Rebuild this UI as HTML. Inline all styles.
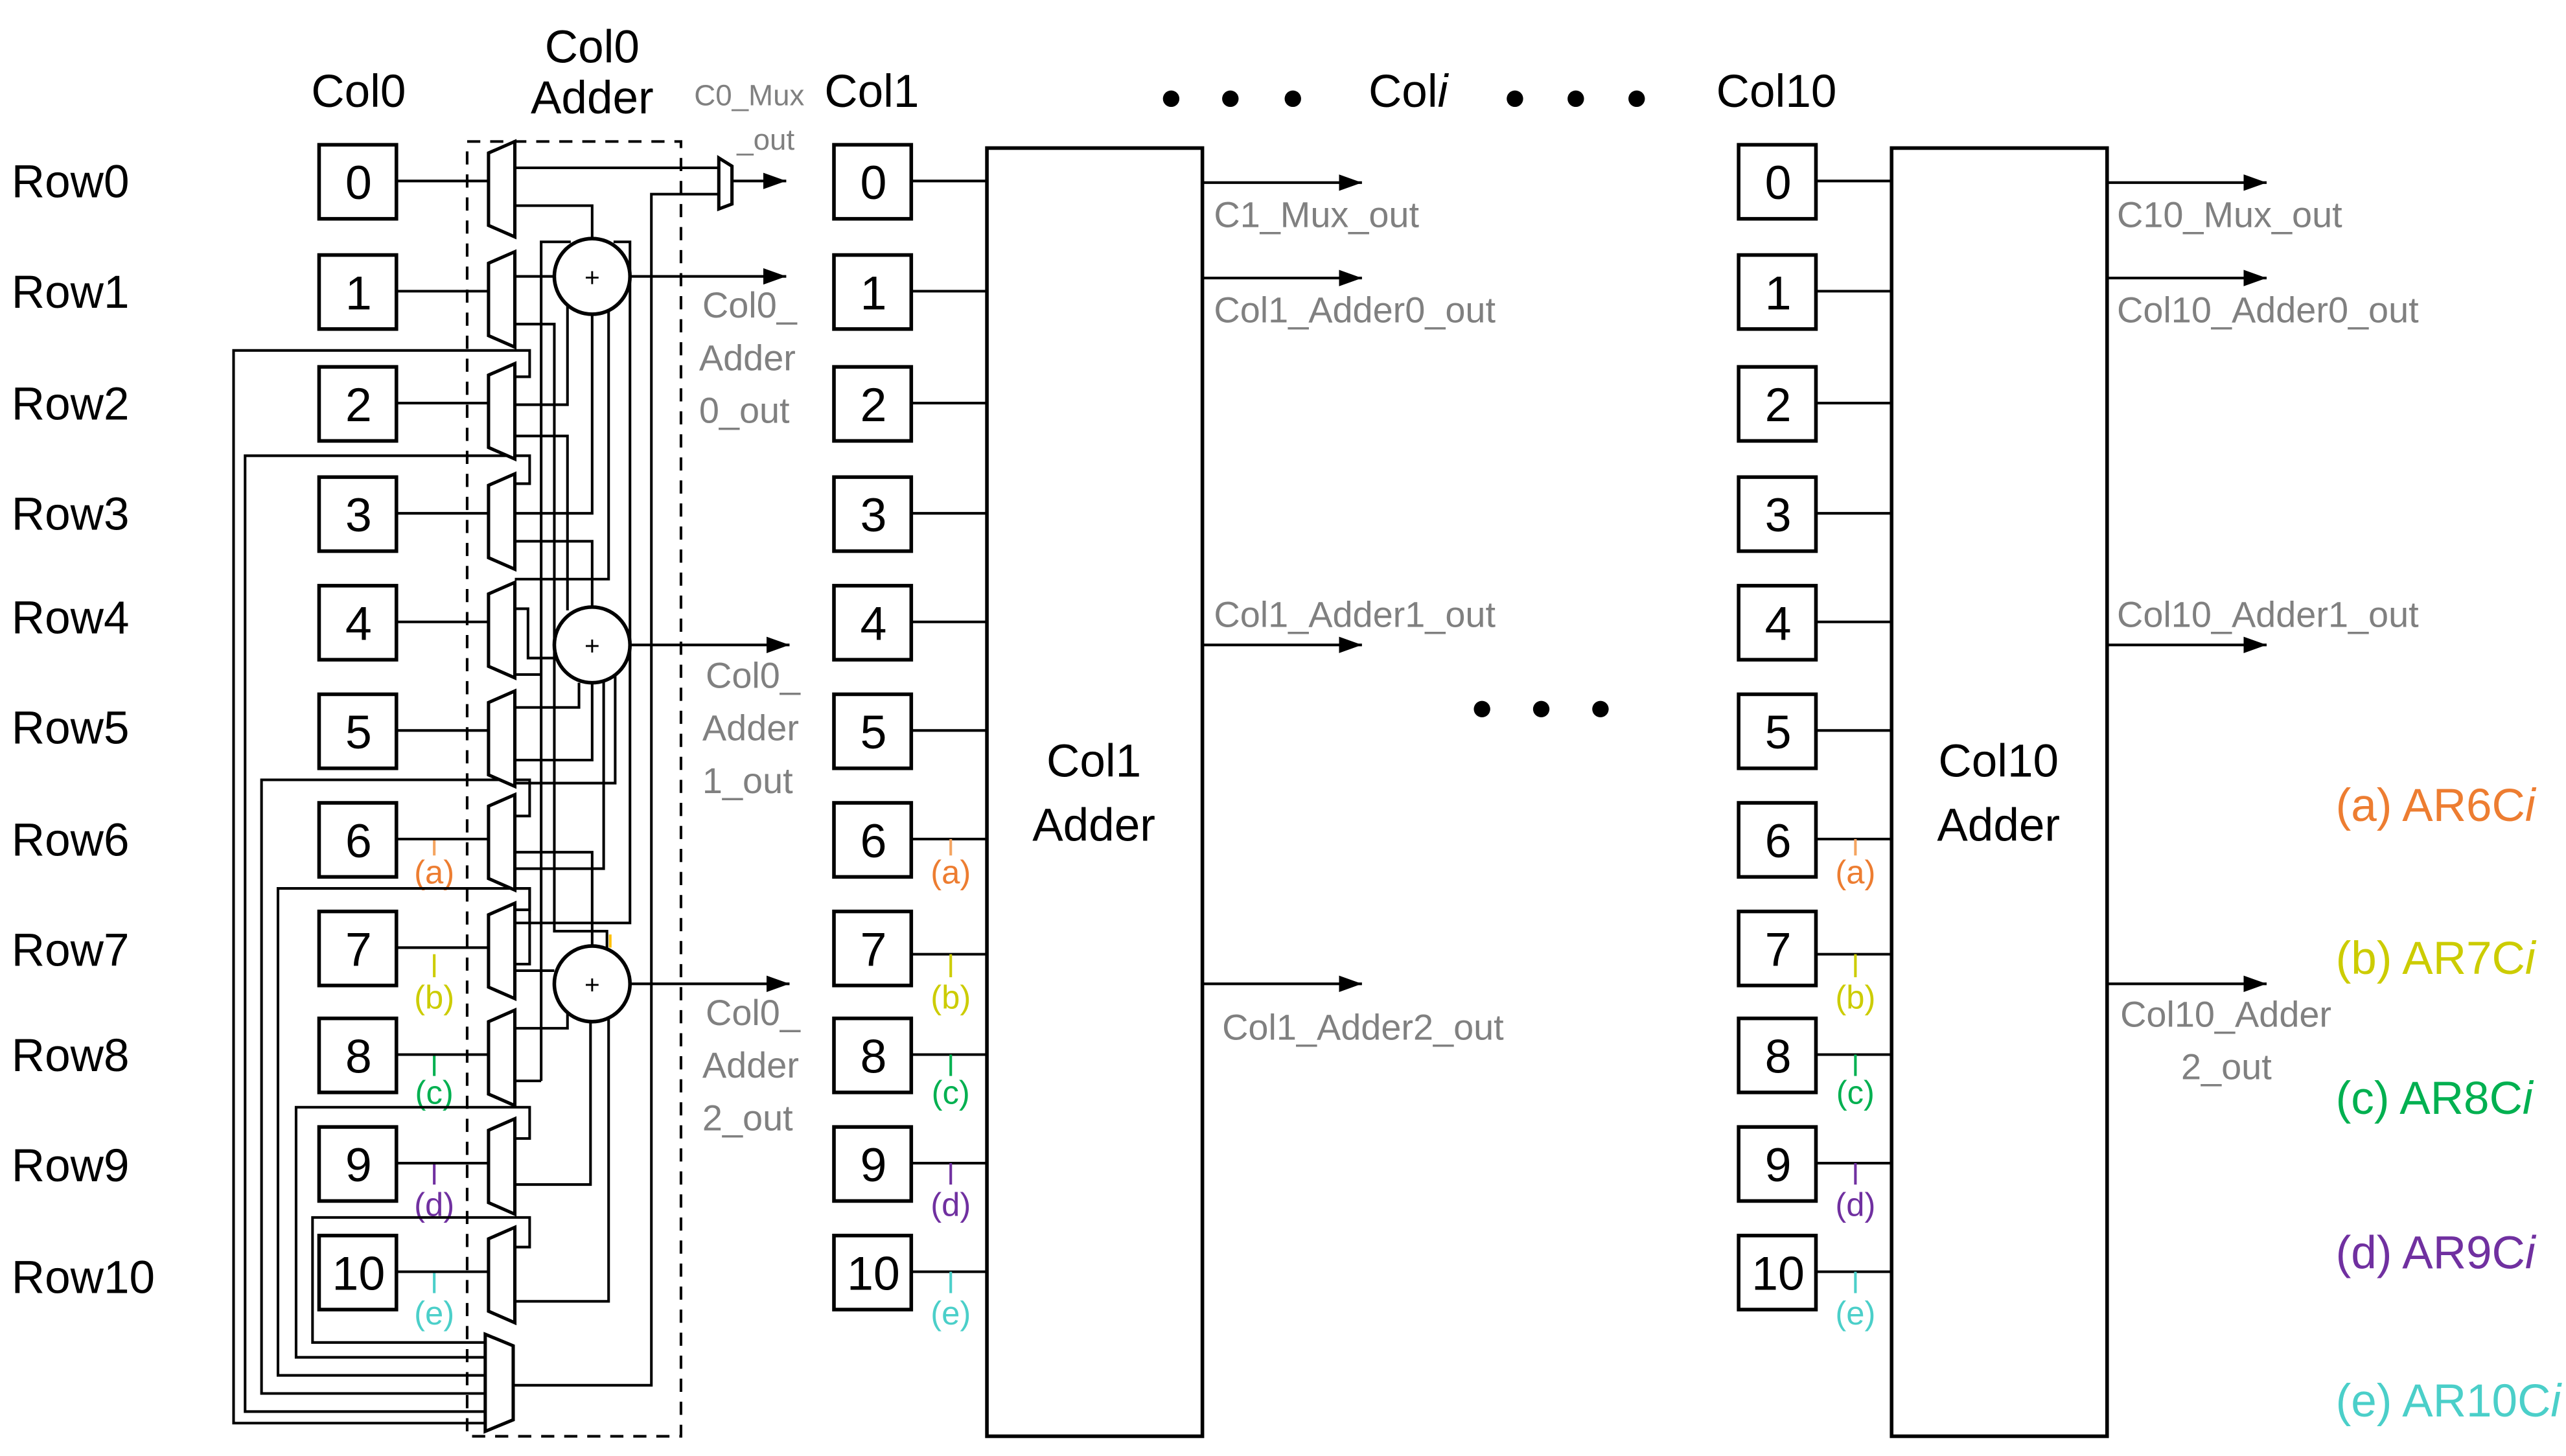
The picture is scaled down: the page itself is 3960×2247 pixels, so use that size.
<!DOCTYPE html>
<html><head><meta charset="utf-8"><style>
html,body{margin:0;padding:0;background:#fff}
svg{display:block}
text{font-family:"Liberation Sans","DejaVu Sans",sans-serif}
</style></head><body>
<svg width="3960" height="2247" viewBox="0 0 1560 885" preserveAspectRatio="none" xmlns="http://www.w3.org/2000/svg">
<defs><marker id="ar" markerWidth="14" markerHeight="10" refX="14" refY="5" orient="auto" markerUnits="userSpaceOnUse"><path d="M0,0 L14,5 L0,10 z" fill="#000"/></marker></defs>
<g font-size="28" fill="#000">
<text x="7" y="120">Row0</text><text x="7" y="187">Row1</text><text x="7" y="255">Row2</text><text x="7" y="322">Row3</text>
<text x="7" y="385">Row4</text><text x="7" y="452">Row5</text><text x="7" y="520">Row6</text><text x="7" y="587">Row7</text>
<text x="7" y="651">Row8</text><text x="7" y="718">Row9</text><text x="7" y="786">Row10</text>
<text x="218" y="65" text-anchor="middle">Col0</text>
<text x="360" y="38" text-anchor="middle">Col0</text><text x="360" y="69" text-anchor="middle">Adder</text>
<text x="530" y="65" text-anchor="middle">Col1</text>
<text x="832" y="65">Col<tspan font-style="italic">i</tspan></text>
<text x="1080" y="65" text-anchor="middle">Col10</text>
<text x="665" y="472" text-anchor="middle">Col1</text><text x="665" y="511" text-anchor="middle">Adder</text>
<text x="1215" y="472" text-anchor="middle">Col10</text><text x="1215" y="511" text-anchor="middle">Adder</text>
</g>
<g fill="#000"><circle cx="712" cy="60" r="5"/><circle cx="748" cy="60" r="5"/><circle cx="786" cy="60" r="5"/>
<circle cx="921" cy="60" r="5"/><circle cx="958" cy="60" r="5"/><circle cx="995" cy="60" r="5"/>
<circle cx="901" cy="431" r="5"/><circle cx="937" cy="431" r="5"/><circle cx="973" cy="431" r="5"/></g>
<g fill="#808080" font-size="18"><text x="422" y="64">C0_Mux</text><text x="448" y="91">_out</text></g>
<g fill="#808080" font-size="22">
<text x="427" y="193">Col0_</text><text x="425" y="225">Adder</text><text x="425" y="257">0_out</text>
<text x="429" y="418">Col0_</text><text x="427" y="450">Adder</text><text x="427" y="482">1_out</text>
<text x="429" y="623">Col0_</text><text x="427" y="655">Adder</text><text x="427" y="687">2_out</text>
<text x="738" y="138">C1_Mux_out</text><text x="738" y="196">Col1_Adder0_out</text>
<text x="738" y="381">Col1_Adder1_out</text><text x="743" y="632">Col1_Adder2_out</text>
<text x="1287" y="138">C10_Mux_out</text><text x="1287" y="196">Col10_Adder0_out</text>
<text x="1287" y="381">Col10_Adder1_out</text><text x="1289" y="624">Col10_Adder</text><text x="1326" y="656">2_out</text>
</g>
<g font-size="28">
<text x="1420" y="499" fill="#ED7D31">(a) AR6C<tspan font-style="italic">i</tspan></text>
<text x="1420" y="592" fill="#CCCC00">(b) AR7C<tspan font-style="italic">i</tspan></text>
<text x="1420" y="677" fill="#00B050">(c) AR8C<tspan font-style="italic">i</tspan></text>
<text x="1420" y="771" fill="#7030A0">(d) AR9C<tspan font-style="italic">i</tspan></text>
<text x="1420" y="861" fill="#4BCFC9">(e) AR10C<tspan font-style="italic">i</tspan></text>
</g>
<g fill="none" stroke="#000" stroke-width="2.2">
<rect x="194" y="88" width="47" height="45"/><rect x="194" y="155" width="47" height="45"/><rect x="194" y="223" width="47" height="45"/><rect x="194" y="290" width="47" height="45"/><rect x="194" y="356" width="47" height="45"/><rect x="194" y="422" width="47" height="45"/><rect x="194" y="488" width="47" height="45"/><rect x="194" y="554" width="47" height="45"/><rect x="194" y="619" width="47" height="45"/><rect x="194" y="685" width="47" height="45"/><rect x="194" y="751" width="47" height="45"/>
<rect x="507" y="88" width="47" height="45"/><rect x="507" y="155" width="47" height="45"/><rect x="507" y="223" width="47" height="45"/><rect x="507" y="290" width="47" height="45"/><rect x="507" y="356" width="47" height="45"/><rect x="507" y="422" width="47" height="45"/><rect x="507" y="488" width="47" height="45"/><rect x="507" y="554" width="47" height="45"/><rect x="507" y="619" width="47" height="45"/><rect x="507" y="685" width="47" height="45"/><rect x="507" y="751" width="47" height="45"/>
<rect x="1057" y="88" width="47" height="45"/><rect x="1057" y="155" width="47" height="45"/><rect x="1057" y="223" width="47" height="45"/><rect x="1057" y="290" width="47" height="45"/><rect x="1057" y="356" width="47" height="45"/><rect x="1057" y="422" width="47" height="45"/><rect x="1057" y="488" width="47" height="45"/><rect x="1057" y="554" width="47" height="45"/><rect x="1057" y="619" width="47" height="45"/><rect x="1057" y="685" width="47" height="45"/><rect x="1057" y="751" width="47" height="45"/>
<rect x="600" y="90" width="131" height="783"/><rect x="1150" y="90" width="131" height="783"/>
</g>
<g font-size="29" text-anchor="middle" fill="#000">
<text x="218" y="121">0</text><text x="218" y="188">1</text><text x="218" y="256">2</text><text x="218" y="323">3</text><text x="218" y="389">4</text><text x="218" y="455">5</text><text x="218" y="521">6</text><text x="218" y="587">7</text><text x="218" y="652">8</text><text x="218" y="718">9</text><text x="218" y="784">10</text>
<text x="531" y="121">0</text><text x="531" y="188">1</text><text x="531" y="256">2</text><text x="531" y="323">3</text><text x="531" y="389">4</text><text x="531" y="455">5</text><text x="531" y="521">6</text><text x="531" y="587">7</text><text x="531" y="652">8</text><text x="531" y="718">9</text><text x="531" y="784">10</text>
<text x="1081" y="121">0</text><text x="1081" y="188">1</text><text x="1081" y="256">2</text><text x="1081" y="323">3</text><text x="1081" y="389">4</text><text x="1081" y="455">5</text><text x="1081" y="521">6</text><text x="1081" y="587">7</text><text x="1081" y="652">8</text><text x="1081" y="718">9</text><text x="1081" y="784">10</text>
</g>
<g stroke="#000" stroke-width="1.6" fill="none">
<path d="M554 110H600M554 177H600M554 245H600M554 312H600M554 378H600M554 444H600M554 510H600M554 580H600M554 641H600M554 707H600M554 773H600"/>
<path d="M1104 110H1150M1104 177H1150M1104 245H1150M1104 312H1150M1104 378H1150M1104 444H1150M1104 510H1150M1104 580H1150M1104 641H1150M1104 707H1150M1104 773H1150"/>
<g marker-end="url(#ar)">
<path d="M731 111H828"/><path d="M731 169H828"/><path d="M731 392H828"/><path d="M731 598H828"/>
<path d="M1281 111H1378"/><path d="M1281 169H1378"/><path d="M1281 392H1378"/><path d="M1281 598H1378"/>
</g>
</g>
<g font-size="20" text-anchor="middle">
<g fill="#ED7D31"><text x="264" y="537">(a)</text><text x="578" y="537">(a)</text><text x="1128" y="537">(a)</text></g>
<g fill="#CCCC00"><text x="264" y="613">(b)</text><text x="578" y="613">(b)</text><text x="1128" y="613">(b)</text></g>
<g fill="#00B050"><text x="264" y="671">(c)</text><text x="578" y="671">(c)</text><text x="1128" y="671">(c)</text></g>
<g fill="#7030A0"><text x="264" y="739">(d)</text><text x="578" y="739">(d)</text><text x="1128" y="739">(d)</text></g>
<g fill="#4BCFC9"><text x="264" y="805">(e)</text><text x="578" y="805">(e)</text><text x="1128" y="805">(e)</text></g>
</g>
<g stroke-width="1.6">
<path stroke="#F4A460" d="M264 510V520M578 510V520M1128 510V520"/>
<path stroke="#CCCC00" d="M264 580V594M578 580V594M1128 580V594"/>
<path stroke="#00B050" d="M264 641V654M578 641V654M1128 641V654"/>
<path stroke="#7030A0" d="M264 707V720M578 707V720M1128 707V720"/>
<path stroke="#4BCFC9" d="M264 773V786M578 773V786M1128 773V786"/>
</g>
<rect x="284" y="86" width="130" height="787" fill="none" stroke="#000" stroke-width="1.6" stroke-dasharray="8,6"/>
<g fill="none" stroke="#000" stroke-width="1.6">
<path d="M241 110H297M241 177H297M241 245H297M241 312H297M241 378H297M241 444H297M241 510H297M241 576H297M241 641H297M241 707H297M241 773H297"/>
<path d="M295 865H142V213H322V229H313"/>
<path d="M295 858H149V277H322V294H313"/>
<path d="M295 847H159V474H322V496H313"/>
<path d="M295 836H169V540H322V553H313"/>
<path d="M295 825H180V673H322V692H313"/>
<path d="M295 816H190V740H322V758H313"/>
<path d="M313 102H437"/>
<path d="M312 842H396V118H437"/>
<path d="M445 110H478" marker-end="url(#ar)"/>
<path d="M313 125H360V145"/>
<path d="M313 168H337"/>
<path d="M329 657H313M329 657V147H347"/>
<path d="M373 147H383V561H313"/>
<path d="M313 197H337V566H369V577"/>
<path d="M345 185V246H313"/>
<path d="M313 265H345V371"/>
<path d="M360 191V312H313"/>
<path d="M370 188V352H313"/>
<path d="M313 329H360V369"/>
<path d="M313 370H321V400H337"/>
<path d="M313 410H329"/>
<path d="M313 430H352V415"/>
<path d="M313 462H360V415"/>
<path d="M313 476H374V408"/>
<path d="M313 518H360V575"/>
<path d="M313 528H367V412"/>
<path d="M313 590H337"/>
<path d="M313 625H345V615"/>
<path d="M313 720H359V621"/>
<path d="M313 791H370V617"/>
<path d="M313 540H322V586H313"/>
<path d="M383 168H478" marker-end="url(#ar)"/>
<path d="M383 392H480" marker-end="url(#ar)"/>
<path d="M383 598H480" marker-end="url(#ar)"/>
</g>
<path d="M371 568V576" stroke="#FFC000" stroke-width="1.6"/>
<g fill="#fff" stroke="#000" stroke-width="2.2">
<circle cx="360" cy="168" r="23"/><circle cx="360" cy="392" r="23"/><circle cx="360" cy="598" r="23"/>
</g>
<g font-size="16" text-anchor="middle"><text x="360" y="174">+</text><text x="360" y="398">+</text><text x="360" y="604">+</text></g>
<g fill="#fff" stroke="#000" stroke-width="2">
<polygon points="297,93 313,86 313,144 297,137"/>
<polygon points="297,160 313,153 313,211 297,204"/>
<polygon points="297,228 313,221 313,279 297,272"/>
<polygon points="297,295 313,288 313,346 297,339"/>
<polygon points="297,361 313,354 313,412 297,405"/>
<polygon points="297,427 313,420 313,478 297,471"/>
<polygon points="297,490 313,483 313,541 297,534"/>
<polygon points="297,556 313,549 313,607 297,600"/>
<polygon points="297,621 313,614 313,672 297,665"/>
<polygon points="297,687 313,680 313,738 297,731"/>
<polygon points="297,753 313,746 313,804 297,797"/>
<polygon points="295,811 312,818 312,863 295,870"/>
<polygon points="437,96 445,101 445,124 437,127"/>
</g>
</svg>
</body></html>
